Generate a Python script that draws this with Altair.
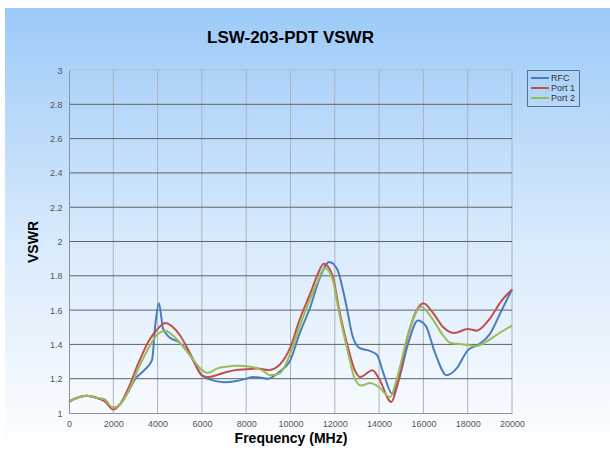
import altair as alt
import pandas as pd

# ---- data ----
rfc_f = [0, 400, 800, 1200, 1600, 2000, 2300, 2700, 3000, 3400, 3750, 3900, 4060, 4250, 4550, 5000,
         5500, 6000, 6500, 7000, 7500, 8000, 8300, 8700, 9000, 9500, 10000, 10400, 10900, 11300,
         11750, 12100, 12500, 12800, 13100, 13500, 13900, 14200, 14600, 14900, 15300, 15750, 16100,
         16500, 17050, 17500, 18000, 18500, 19000, 19500, 20000]
rfc_v = [1.065, 1.09, 1.10, 1.09, 1.07, 1.03, 1.05, 1.13, 1.20, 1.25, 1.31, 1.52, 1.64, 1.49, 1.44, 1.41,
         1.33, 1.22, 1.19, 1.18, 1.185, 1.20, 1.21, 1.205, 1.20, 1.24, 1.31, 1.46, 1.62, 1.78,
         1.88, 1.84, 1.64, 1.45, 1.38, 1.365, 1.34, 1.23, 1.11, 1.20, 1.40, 1.54, 1.51,
         1.36, 1.22, 1.26, 1.365, 1.40, 1.46, 1.59, 1.72]

p1_f = [0, 400, 800, 1200, 1600, 2000, 2300, 2700, 3100, 3600, 4000, 4350, 4700, 5000, 5500, 6000,
        6300, 7000, 7500, 8000, 8500, 9000, 9500, 10000, 10400, 10900, 11200, 11500, 11900, 12200,
        12600, 12900, 13150, 13700, 14000, 14550, 14800, 15300, 15700, 16000, 16400, 16900, 17400,
        18000, 18400, 19000, 19500, 20000]
p1_v = [1.065, 1.09, 1.10, 1.09, 1.07, 1.02, 1.05, 1.15, 1.28, 1.42, 1.49, 1.525, 1.50, 1.455, 1.34, 1.22,
        1.21, 1.235, 1.25, 1.255, 1.26, 1.25, 1.28, 1.385, 1.54, 1.70, 1.80, 1.87, 1.80, 1.60,
        1.38, 1.25, 1.21, 1.25, 1.20, 1.064, 1.15, 1.45, 1.60, 1.64, 1.59, 1.50, 1.466,
        1.49, 1.48, 1.55, 1.65, 1.72]

p2_f = [0, 400, 800, 1200, 1600, 2000, 2300, 2700, 3100, 3600, 4000, 4350, 4700, 5000, 5500, 6000,
        6250, 6700, 7100, 7600, 8200, 8700, 9100, 9500, 10000, 10400, 10900, 11200, 11550, 11900,
        12200, 12600, 12900, 13200, 13600, 14000, 14500, 14800, 15400, 15900, 16400, 16900, 17200,
        17800, 18400, 18900, 19300, 20000]
p2_v = [1.065, 1.09, 1.10, 1.09, 1.08, 1.03, 1.05, 1.13, 1.25, 1.38, 1.46, 1.48, 1.45, 1.41, 1.33, 1.25,
        1.233, 1.26, 1.27, 1.275, 1.27, 1.25, 1.22, 1.23, 1.35, 1.50, 1.67, 1.76, 1.845, 1.78,
        1.58, 1.35, 1.20, 1.16, 1.175, 1.15, 1.093, 1.20, 1.50, 1.62, 1.55, 1.45, 1.41,
        1.40, 1.39, 1.42, 1.455, 1.51]

series_names = ["RFC", "Port 1", "Port 2"]
series_colors = ["#4a7ebb", "#c0504d", "#9bbb59"]
x_ticks = [0, 2000, 4000, 6000, 8000, 10000, 12000, 14000, 16000, 18000, 20000]
y_ticks = [1, 1.2, 1.4, 1.6, 1.8, 2, 2.2, 2.4, 2.6, 2.8, 3]

rows = []
for name, fs, vs in zip(series_names, [rfc_f, p1_f, p2_f], [rfc_v, p1_v, p2_v]):
    for f, v in zip(fs, vs):
        rows.append({"series": name, "freq": f, "vswr": v})
df = pd.DataFrame(rows)

W, H = 443, 343
PL, PT, PR, PB = 69, 70, 98, 37

xscale = alt.Scale(domain=[0, 20000], nice=False, zero=False)
yscale = alt.Scale(domain=[1, 3], nice=False, zero=False)

xaxis = alt.Axis(values=x_ticks, format="d", title="Frequency (MHz)",
                 titleFontSize=14, titleFontWeight="bold", titleFont="Liberation Sans",
                 titleColor="#000", titlePadding=3,
                 labelFontSize=9, labelFont="Liberation Sans", labelColor="#555",
                 labelPadding=6, labelFlush=False, labelOverlap=False,
                 ticks=False, grid=False, domainColor="#8a939c", zindex=1)
yaxis = alt.Axis(values=y_ticks, format="~g", title="VSWR",
                 titleFontSize=14, titleFontWeight="bold", titleFont="Liberation Sans",
                 titleColor="#000", titlePadding=9,
                 labelFontSize=9, labelFont="Liberation Sans", labelColor="#555",
                 labelPadding=7, labelFlush=False, labelOverlap=False,
                 ticks=False, grid=False, domainColor="#8a939c", zindex=1)

grad = alt.Gradient(
    gradient="linear",
    stops=[alt.GradientStop(color="#9ccaf8", offset=0),
           alt.GradientStop(color="#d6e9fc", offset=0.5),
           alt.GradientStop(color="#ffffff", offset=1)],
    x1=0, x2=0, y1=0, y2=1,
)

bg = alt.Chart(pd.DataFrame({"a": [0]})).mark_rect(fill=grad).encode(
    x=alt.value(5 - PL), x2=alt.value(610 - PL + 5),
    y=alt.value(8 - PT), y2=alt.value(450 - PT + 5),
)

hgrid = alt.Chart(pd.DataFrame({"vswr": [t for t in y_ticks if 1 < t < 3]})).mark_rule(
    color="#5e6166", strokeWidth=1).encode(y=alt.Y("vswr:Q", scale=yscale, axis=yaxis))
topline = alt.Chart(pd.DataFrame({"vswr": [3]})).mark_rule(
    color="#b4bcc6", strokeWidth=1).encode(y=alt.Y("vswr:Q", scale=yscale, axis=yaxis))
vgrid = alt.Chart(pd.DataFrame({"freq": [t for t in x_ticks if t > 0]})).mark_rule(
    color="#aab2bc", strokeWidth=1).encode(x=alt.X("freq:Q", scale=xscale, axis=xaxis))

lines = alt.Chart(df).mark_line(interpolate="monotone", strokeWidth=2).encode(
    x=alt.X("freq:Q", scale=xscale, axis=xaxis),
    y=alt.Y("vswr:Q", scale=yscale, axis=yaxis),
    color=alt.Color("series:N", sort=series_names,
                    scale=alt.Scale(domain=series_names, range=series_colors),
                    legend=alt.Legend(orient="none", legendX=458, legendY=0, title=None,
                                      symbolType="stroke", symbolSize=324, symbolStrokeWidth=2,
                                      labelFontSize=9, labelFont="Liberation Sans",
                                      labelColor="#333", labelOffset=1, padding=3,
                                      clipHeight=10, rowPadding=0,
                                      strokeColor="#5b708a", zindex=1)),
    detail="series:N",
)

chart = alt.layer(bg, vgrid, hgrid, topline, lines).properties(
    width=W, height=H,
    autosize=alt.AutoSizeParams(type="none"),
    padding={"left": PL, "top": PT, "right": PR, "bottom": PB},
    background="white",
    title=alt.TitleParams("LSW-203-PDT VSWR", fontSize=17, font="Liberation Sans",
                          fontWeight="bold", anchor="middle", frame="group", offset=0, dy=39,
                          color="#000", zindex=1),
).configure_view(stroke=None)

chart.save("out.html", embed_options={"renderer": "svg", "actions": False})
